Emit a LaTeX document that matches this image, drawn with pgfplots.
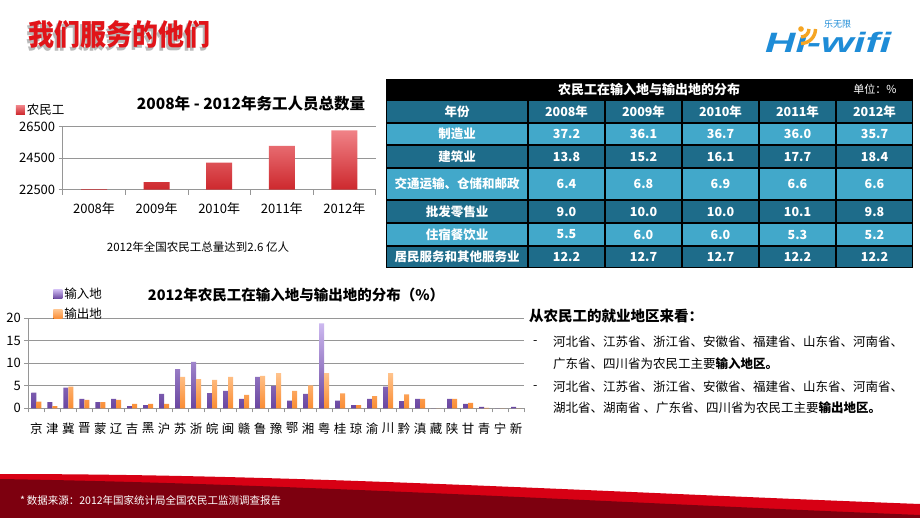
\documentclass[border=0pt]{standalone}
\usepackage{fontspec}
\usepackage{graphicx}
\usepackage{pgfplots}
\usepackage{pgfplotstable}
\pgfplotsset{compat=1.18}
\setmainfont{Noto Sans CJK SC}
\newfontfamily\logofont{Liberation Sans}
\definecolor{tdark}{RGB}{30,108,138}
\definecolor{tlight}{RGB}{66,168,202}
\definecolor{gridgray}{RGB}{150,150,150}
\definecolor{redA}{RGB}{240,130,135}
\definecolor{redB}{RGB}{205,40,45}
\definecolor{purA}{RGB}{205,185,240}
\definecolor{purB}{RGB}{105,70,160}
\definecolor{orA}{RGB}{255,195,140}
\definecolor{orB}{RGB}{250,140,50}
\definecolor{titlered}{RGB}{225,20,25}
\definecolor{logoblue}{RGB}{30,140,215}
\definecolor{logoorange}{RGB}{245,165,35}
\definecolor{bandred}{RGB}{215,0,20}
\definecolor{banddark}{RGB}{125,0,15}

\pgfplotstableread{
idx in out
0 3.5 1.5
1 1.4 0.5
2 4.6 4.8
3 2.1 1.9
4 1.4 1.4
5 2.1 1.9
6 0.5 1.0
7 0.7 1.0
8 3.2 1.0
9 8.7 7.0
10 10.3 6.5
11 3.4 6.3
12 3.9 7.0
13 2.1 3.0
14 7.0 7.2
15 5.0 7.8
16 1.7 3.9
17 3.2 5.1
18 18.9 7.8
19 1.7 3.3
20 0.7 0.7
21 2.1 2.7
22 4.8 7.8
23 1.6 3.1
24 2.1 2.1
25 0 0
26 2.1 2.1
27 1.0 1.2
28 0.3 0.1
29 0 0
30 0.3 0
}\provdata

\pgfplotstableread{
idx workers
0 22542
1 22978
2 24223
3 25278
4 26261
}\workdata

\begin{document}
\begin{tikzpicture}
\useasboundingbox (0,0) rectangle (920pt,-518pt);
\fill[white] (0,0) rectangle (920pt,-518pt);

% ---------- top chart ----------
\begin{axis}[
  at={(62.7pt,-189.7pt)}, anchor=south west,
  scale only axis, width=313pt, height=63pt,
  xmin=-0.5, xmax=4.5, ymin=0, ymax=4000,
  y filter/.expression={y-22500},
  ytick={0,2000,4000}, yticklabels={22500,24500,26500},
  xtick={0,...,4}, xticklabels={2008年,2009年,2010年,2011年,2012年},
  minor xtick={-0.5,0.5,...,4.5},
  axis x line*=bottom, axis y line*=left,
  axis line style={gridgray, line width=0.8pt},
  ymajorgrids, major grid style={gridgray, line width=0.8pt},
  tick align=outside,
  major x tick style={draw=none},
  minor x tick style={gridgray, line width=0.8pt},
  minor tick length=5pt,
  major y tick style={gridgray, line width=0.8pt},
  major tick length=4pt,
  y tick label style={font=\fontsize{13}{13}\selectfont},
  x tick label style={font=\fontsize{13}{13}\selectfont, yshift=-5pt},
  /pgf/number format/assume math mode=true,
  ybar, bar width=26pt,
  legend style={at={(-0.15,1.265)}, anchor=west, draw=none, fill=none,
     font=\fontsize{12.5}{12.5}\selectfont, inner sep=0pt},
  legend cell align=left,
]
\addplot[draw=none, top color=redA, bottom color=redB,
  legend image code/.code={\fill[top color=redA,bottom color=redB] (0pt,-4.5pt) rectangle (9pt,4.5pt);}]
  table[x=idx,y=workers]{\workdata};
\addlegendentry{农民工}
\end{axis}

% ---------- bottom chart ----------
\begin{axis}[
  at={(28.3pt,-408.3pt)}, anchor=south west,
  scale only axis, width=495.7pt, height=90pt,
  xmin=-0.5, xmax=30.5, ymin=0, ymax=20,
  ytick={0,5,10,15,20},
  xtick={0,...,30},
  xticklabels={京,津,冀,晋,蒙,辽,吉,黑,沪,苏,浙,皖,闽,赣,鲁,豫,鄂,湘,粤,桂,琼,渝,川,黔,滇,藏,陕,甘,青,宁,新},
  minor xtick={-0.5,0.5,...,30.5},
  axis x line*=bottom, axis y line*=left,
  axis line style={gridgray, line width=0.8pt},
  ymajorgrids, major grid style={gridgray, line width=0.8pt},
  tick align=outside,
  major x tick style={draw=none},
  minor x tick style={gridgray, line width=0.8pt},
  minor tick length=4pt,
  major y tick style={gridgray, line width=0.8pt},
  major tick length=4pt,
  y tick label style={font=\fontsize{13}{13}\selectfont},
  x tick label style={font=\fontsize{12.5}{12.5}\selectfont, yshift=-7pt},
  /pgf/number format/assume math mode=true,
  ybar=0pt, bar width=5pt,
  legend style={at={(0.05,1.36)}, anchor=north west, draw=none, fill=none,
     font=\fontsize{12.5}{12.5}\selectfont, inner sep=0pt, row sep=4pt},
  legend cell align=left,
]
\addplot[draw=none, top color=purA, bottom color=purB,
  legend image code/.code={\fill[top color=purA,bottom color=purB] (0pt,-4.5pt) rectangle (9pt,4.5pt);}]
  table[x=idx,y=in]{\provdata};
\addlegendentry{输入地}
\addplot[draw=none, top color=orA, bottom color=orB,
  legend image code/.code={\fill[top color=orA,bottom color=orB] (0pt,-4.5pt) rectangle (9pt,4.5pt);}]
  table[x=idx,y=out]{\provdata};
\addlegendentry{输出地}
\end{axis}

\begin{scope}[x=1pt,y=-1pt]
% page title
\node[anchor=west, inner sep=0pt, text=gray!55] at (26,37.5) {\scalebox{1}[1.12]{\bfseries\fontsize{26}{26}\selectfont 我们服务的他们}};
\node[anchor=west, inner sep=0pt, text=titlered] at (28,34.5) {\scalebox{1}[1.12]{\bfseries\fontsize{26}{26}\selectfont 我们服务的他们}};

% logo
\node[anchor=base west, inner sep=0pt, text=logoblue] at (765,53)
  {\scalebox{1.5}[1]{\logofont\bfseries\itshape\fontsize{28}{28}\selectfont Hı-wifi}};
\fill[logoorange] (801,29) circle (2.8);
\draw[logoorange, line width=3.4] (801+8,29) arc (0:90:8);
\draw[logoorange, line width=3.4] (801+14.5,29) arc (0:90:14.5);
\node[anchor=west, text=logoblue, font=\fontsize{9}{9}\selectfont, inner sep=0pt] at (824,24) {乐无限};

% chart titles and captions
\node[font=\bfseries\fontsize{15.5}{15.5}\selectfont] at (251,104) {2008年 - 2012年务工人员总数量};
\node[font=\fontsize{11.5}{11.5}\selectfont] at (198,247) {2012年全国农民工总量达到2.6 亿人};
\node[font=\bfseries\fontsize{14.5}{14.5}\selectfont] at (296,295) {2012年农民工在输入地与输出地的分布（\%）};

% table
\fill[black] (386,79) rectangle (913,268.5);
\node[text=white, font=\bfseries\fontsize{13}{13}\selectfont] at (649,89.5) {农民工在输入地与输出地的分布};
\node[text=white, font=\fontsize{11}{11}\selectfont] at (875,89.5) {单位：\%};
\foreach \ya/\yb/\c in {100/122.7/tdark,122.7/145.3/tlight,145.3/168.3/tdark,168.3/200/tlight,200/223.3/tdark,223.3/245.7/tlight,245.7/268.3/tdark}{
  \foreach \xa/\xb in {386/528,528/605,605/682,682/759,759/836,836/913}{
    \fill[\c] (\xa+1,\ya+1) rectangle (\xb-1,\yb-1);
  }
}
\tikzset{cell/.style={text=white, font=\bfseries\fontsize{12.5}{12.5}\selectfont, inner sep=0pt}}
\foreach \y/\lab/\a/\b/\c/\d/\e in {
 111.3/年份/2008年/2009年/2010年/2011年/2012年,
 134/制造业/37.2/36.1/36.7/36.0/35.7,
 156.8/建筑业/13.8/15.2/16.1/17.7/18.4,
 184.2/交通运输、仓储和邮政/6.4/6.8/6.9/6.6/6.6,
 211.7/批发零售业/9.0/10.0/10.0/10.1/9.8,
 234.5/住宿餐饮业/5.5/6.0/6.0/5.3/5.2,
 257/居民服务和其他服务业/12.2/12.7/12.7/12.2/12.2}{
  \node[cell] at (457,\y) {\lab};
  \node[cell] at (566.5,\y) {\a};
  \node[cell] at (643.5,\y) {\b};
  \node[cell] at (720.5,\y) {\c};
  \node[cell] at (797.5,\y) {\d};
  \node[cell] at (874.5,\y) {\e};
}

% right text
\node[anchor=west, inner sep=0pt, font=\bfseries\fontsize{14.5}{14.5}\selectfont] at (529,316) {从农民工的就业地区来看：};
\begin{scope}[every node/.style={anchor=west, inner sep=0pt, font=\fontsize{12.5}{12.5}\selectfont}]
\node at (533,342.5) {-};
\node at (553,341.7) {河北省、江苏省、浙江省、安徽省、福建省、山东省、河南省、};
\node at (553,363.7) {广东省、四川省为农民工主要\textbf{输入地区。}};
\node at (533,387.5) {-};
\node at (553,386.7) {河北省、江苏省、浙江省、安徽省、福建省、山东省、河南省、};
\node at (553,408) {湖北省、湖南省 、广东省、四川省为农民工主要\textbf{输出地区。}};
\end{scope}

% footer band
\fill[bandred] (0,474) .. controls (300,474) and (600,492) .. (920,504) -- (920,518) -- (0,518) -- cycle;
\fill[banddark] (0,479) .. controls (300,484) and (600,502) .. (920,515) -- (920,518) -- (0,518) -- cycle;
\node[anchor=west, inner sep=0pt, text=white, font=\fontsize{10.5}{10.5}\selectfont] at (20,500) {*\,数据来源：2012年国家统计局全国农民工监测调查报告};
\end{scope}
\end{tikzpicture}
\end{document}
